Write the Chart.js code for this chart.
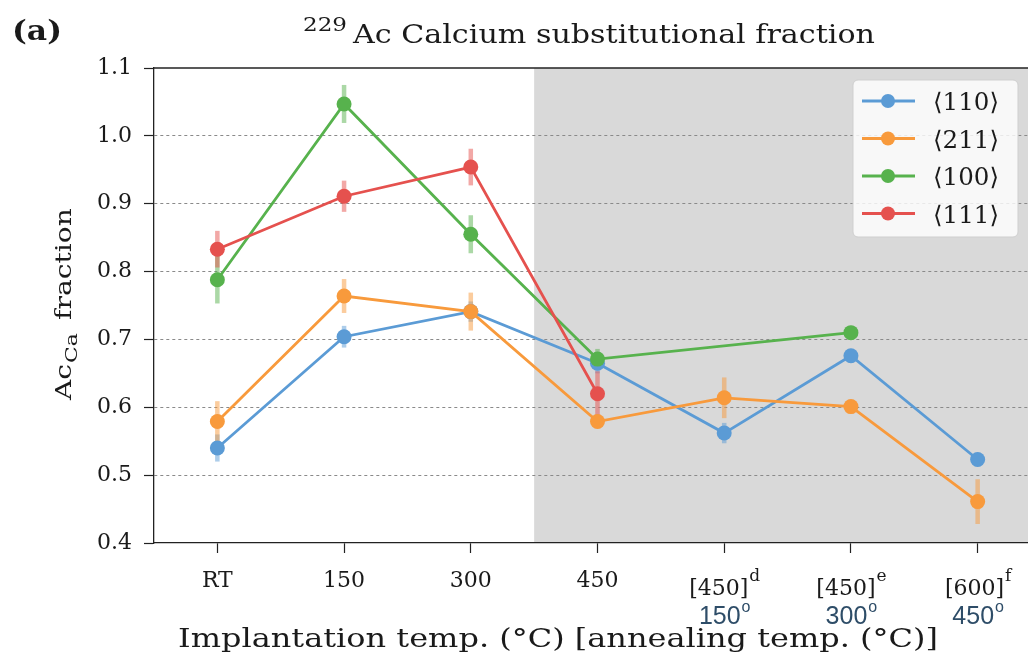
<!DOCTYPE html>
<html>
<head>
<meta charset="utf-8">
<script src="https://cdn.jsdelivr.net/npm/chart.js@4.4.1/dist/chart.umd.min.js"></script>
<style>
  html, body { margin: 0; padding: 0; background: #fff; overflow: hidden; }
  #wrap { width: 1050px; height: 659px; }
</style>
</head>
<body>
<div id="wrap"><canvas id="chart" width="1050" height="659"></canvas></div>
<script>
// Categories (implantation temp, superscript note, annealing temp)
const categories = ["RT", "150", "300", "450", "[450]d", "[450]e", "[600]f"];
const tickMain = ["RT", "150", "300", "450", "[450]", "[450]", "[600]"];
const tickSup = ["", "", "", "", "d", "e", "f"];
const annealTemps = ["", "", "", "", "150", "300", "450"];

// Series values and error bars
const values110 = [0.540, 0.704, 0.741, 0.665, 0.562, 0.676, 0.523];
const err110 = [0.020, 0.016, 0.015, 0.015, 0.015, 0.010, 0.010];
const values211 = [0.579, 0.764, 0.741, 0.579, 0.614, 0.601, 0.461];
const err211 = [0.030, 0.025, 0.028, 0.010, 0.030, 0.010, 0.033];
const values100 = [0.788, 1.047, 0.855, 0.671, null, 0.710, null];
const err100 = [0.035, 0.028, 0.028, 0.015, null, 0.010, null];
const values111 = [0.833, 0.911, 0.954, 0.620, null, null, null];
const err111 = [0.027, 0.023, 0.027, 0.033, null, null, null];

const seriesNames = ["\u27E8110\u27E9", "\u27E8211\u27E9", "\u27E8100\u27E9", "\u27E8111\u27E9"];
const seriesColors = ["#5b9bd5", "#f89a3c", "#57b24d", "#e5514e"];
const seriesValues = [values110, values211, values100, values111];
const seriesErrors = [err110, err211, err100, err111];

const yTicks = [0.4, 0.5, 0.6, 0.7, 0.8, 0.9, 1.0, 1.1];

const SERIF = "'DejaVu Serif', serif";
const SANS = "'Liberation Sans', Arial, sans-serif";

// draw text squeezed/stretched horizontally to a given width (the figure is stretched)
function fitText(ctx, text, x, y, width, font) {
  ctx.font = font;
  const w = ctx.measureText(text).width;
  ctx.save();
  ctx.translate(x, y);
  ctx.scale(width / w, 1);
  ctx.textAlign = "left";
  ctx.fillText(text, 0, 0);
  ctx.restore();
}

// Shaded annealed region (from halfway between 300 and 450 to the right)
const shadePlugin = {
  id: "shade",
  beforeDraw(chart) {
    const { ctx, chartArea, scales } = chart;
    const x0 = (scales.x.getPixelForValue(2) + scales.x.getPixelForValue(3)) / 2;
    ctx.save();
    ctx.fillStyle = "#d9d9d9";
    ctx.fillRect(x0, chartArea.top, chartArea.right - x0, chartArea.bottom - chartArea.top);
    ctx.restore();
  }
};

// Error bars drawn under the markers
const errorBarPlugin = {
  id: "errorBars",
  beforeDatasetsDraw(chart) {
    const { ctx, scales } = chart;
    ctx.save();
    ctx.lineWidth = 4.5;
    ctx.globalAlpha = 0.5;
    seriesValues.forEach((vals, s) => {
      ctx.strokeStyle = seriesColors[s];
      vals.forEach((v, i) => {
        const e = seriesErrors[s][i];
        if (v === null || e === null) return;
        const x = scales.x.getPixelForValue(i);
        ctx.beginPath();
        ctx.moveTo(x, scales.y.getPixelForValue(v - e));
        ctx.lineTo(x, scales.y.getPixelForValue(v + e));
        ctx.stroke();
      });
    });
    ctx.restore();
  }
};

// Texts: title, panel label, axis titles, x tick labels, legend, top spine
const textPlugin = {
  id: "texts",
  afterDraw(chart) {
    const { ctx, chartArea, scales } = chart;
    ctx.save();
    ctx.fillStyle = "#1a1a1a";
    ctx.textBaseline = "alphabetic";

    // top spine
    ctx.strokeStyle = "#222";
    ctx.lineWidth = 1.3;
    ctx.beginPath();
    ctx.moveTo(chartArea.left, chartArea.top);
    ctx.lineTo(chartArea.right, chartArea.top);
    ctx.stroke();

    // panel label
    fitText(ctx, "(a)", 12, 40, 50, "bold 28px " + SERIF);

    // title
    fitText(ctx, "229", 303, 31, 44, "18px " + SERIF);
    fitText(ctx, "Ac Calcium substitutional fraction", 353, 43, 522, "26px " + SERIF);

    // y-axis title (rotated)
    ctx.save();
    ctx.translate(71, 400);
    ctx.rotate(-Math.PI / 2);
    fitText(ctx, "Ac", 0, 0, 36, "23px " + SERIF);
    fitText(ctx, "Ca", 37, 6, 30, "17px " + SERIF);
    fitText(ctx, "fraction", 80, 0, 112, "23px " + SERIF);
    ctx.restore();

    // x tick labels
    categories.forEach((c, i) => {
      const px = scales.x.getPixelForValue(i);
      ctx.fillStyle = "#1a1a1a";
      ctx.font = "22px " + SERIF;
      if (!tickSup[i]) {
        ctx.textAlign = "center";
        ctx.fillText(tickMain[i], px, 587);
      } else {
        const wm = ctx.measureText(tickMain[i]).width;
        ctx.font = "17px " + SERIF;
        const ws = ctx.measureText(tickSup[i]).width;
        const left = px - (wm + ws) / 2;
        ctx.textAlign = "left";
        ctx.font = "22px " + SERIF;
        ctx.fillText(tickMain[i], left, 595);
        ctx.font = "17px " + SERIF;
        ctx.fillText(tickSup[i], left + wm + 1, 581);
        // annealing temperature line
        ctx.fillStyle = "#2e4d68";
        ctx.font = "25px " + SANS;
        const wa = ctx.measureText(annealTemps[i]).width;
        ctx.font = "16px " + SANS;
        const wo = ctx.measureText("o").width;
        const l2 = px - (wa + wo) / 2;
        ctx.font = "25px " + SANS;
        ctx.fillText(annealTemps[i], l2, 624);
        ctx.font = "16px " + SANS;
        ctx.fillText("o", l2 + wa + 1, 612);
      }
    });

    // x-axis title
    ctx.fillStyle = "#1a1a1a";
    fitText(ctx, "Implantation temp. (\u00B0C) [annealing temp. (\u00B0C)]", 178, 647, 760, "26px " + SERIF);

    // legend
    const lx = 853, ly = 80, lw = 165, lh = 157;
    ctx.fillStyle = "rgba(255,255,255,0.8)";
    ctx.strokeStyle = "#cfcfcf";
    ctx.lineWidth = 1;
    ctx.beginPath();
    ctx.roundRect(lx, ly, lw, lh, 5);
    ctx.fill();
    ctx.stroke();
    seriesNames.forEach((name, s) => {
      const y = 101 + s * 37.5;
      ctx.strokeStyle = seriesColors[s];
      ctx.fillStyle = seriesColors[s];
      ctx.lineWidth = 3;
      ctx.beginPath();
      ctx.moveTo(862, y);
      ctx.lineTo(915, y);
      ctx.stroke();
      ctx.beginPath();
      ctx.arc(888, y, 7, 0, Math.PI * 2);
      ctx.fill();
      ctx.fillStyle = "#1a1a1a";
      fitText(ctx, name, 933, y + 9, 66, "24px " + SERIF);
    });
    ctx.restore();
  }
};

const datasets = seriesValues.map((vals, s) => ({
  label: seriesNames[s],
  data: vals,
  borderColor: seriesColors[s],
  backgroundColor: seriesColors[s],
  pointBackgroundColor: seriesColors[s],
  pointBorderColor: seriesColors[s],
  borderWidth: 2.8,
  pointRadius: 7.5,
  pointBorderWidth: 0,
  spanGaps: true,
  tension: 0,
  order: 4 - s
}));

new Chart(document.getElementById("chart"), {
  type: "line",
  data: { labels: categories, datasets: datasets },
  plugins: [shadePlugin, errorBarPlugin, textPlugin],
  options: {
    responsive: false,
    animation: false,
    events: [],
    layout: { padding: { top: 68, right: 9, left: 0, bottom: 0 } },
    plugins: { legend: { display: false }, tooltip: { enabled: false }, title: { display: false } },
    scales: {
      x: {
        type: "category",
        offset: true,
        afterFit: (scale) => { scale.height = 116; },
        ticks: { display: false },
        grid: {
          display: true,
          drawOnChartArea: false,
          drawTicks: true,
          tickLength: 10,
          tickColor: "#222",
          tickWidth: 1.2,
          offset: false
        },
        border: { display: true, color: "#222", width: 1.3 }
      },
      y: {
        min: 0.4,
        max: 1.1,
        afterFit: (scale) => { scale.width = 154; },
        afterBuildTicks: (scale) => { scale.ticks = yTicks.map(v => ({ value: v })); },
        ticks: {
          color: "#1a1a1a",
          font: { family: "DejaVu Serif", size: 22 },
          padding: 12,
          callback: (v) => Number(v).toFixed(1)
        },
        grid: {
          color: (ctx) => (ctx.tick && (ctx.tick.value === 0.4 || ctx.tick.value === 1.1)) ? "rgba(0,0,0,0)" : "#8a8a8a",
          lineWidth: 1,
          tickBorderDash: [],
          tickColor: "#222",
          tickLength: 10,
          tickWidth: 1.2
        },
        border: { display: true, color: "#222", width: 1.3, dash: [3, 3] }
      }
    }
  }
});
</script>
</body>
</html>
